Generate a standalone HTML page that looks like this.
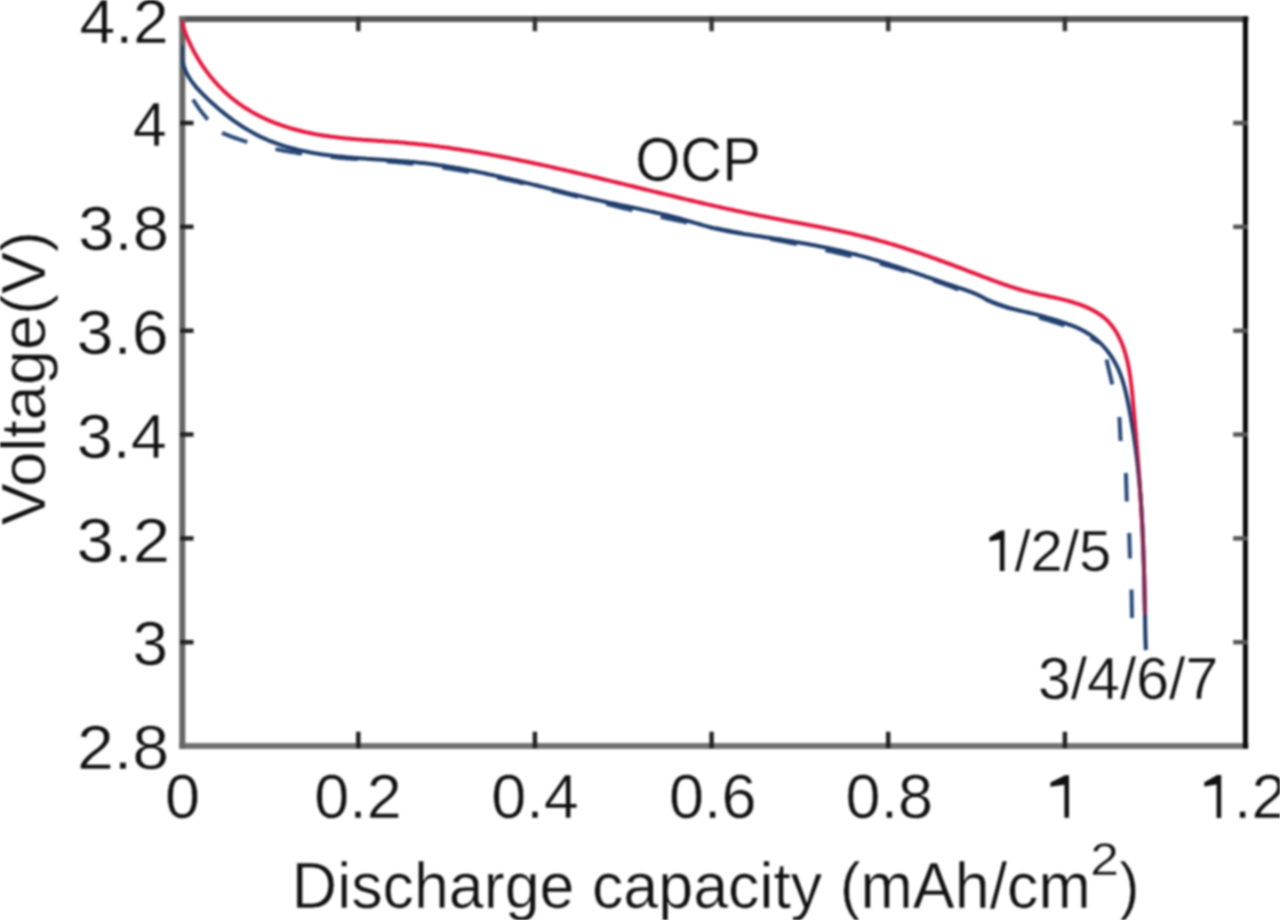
<!DOCTYPE html>
<html><head><meta charset="utf-8"><style>
html,body{margin:0;padding:0;background:#fff;width:1280px;height:920px;overflow:hidden}
svg{display:block}
#wrap{filter:blur(1px);width:1280px;height:920px}
</style></head><body><div id="wrap">
<svg width="1280" height="920" viewBox="0 0 1280 920">
<rect width="1280" height="920" fill="#fff"/>
<g fill="none" stroke-linecap="square">
<line x1="182.3" y1="19.0" x2="1245.4" y2="19.0" stroke="#555" stroke-width="6"/>
<line x1="182.3" y1="746.0" x2="1245.4" y2="746.0" stroke="#727272" stroke-width="6"/>
<line x1="182.3" y1="19.0" x2="182.3" y2="746.0" stroke="#666" stroke-width="6"/>
<line x1="1245.4" y1="19.0" x2="1245.4" y2="746.0" stroke="#0a0a0a" stroke-width="5"/>
<line x1="358.3" y1="19.0" x2="358.3" y2="29.0" stroke="#333" stroke-width="4.5"/>
<line x1="358.3" y1="746.0" x2="358.3" y2="734.0" stroke="#222" stroke-width="4.5"/>
<line x1="534.9" y1="19.0" x2="534.9" y2="29.0" stroke="#333" stroke-width="4.5"/>
<line x1="534.9" y1="746.0" x2="534.9" y2="734.0" stroke="#222" stroke-width="4.5"/>
<line x1="711.6" y1="19.0" x2="711.6" y2="29.0" stroke="#333" stroke-width="4.5"/>
<line x1="711.6" y1="746.0" x2="711.6" y2="734.0" stroke="#222" stroke-width="4.5"/>
<line x1="888.2" y1="19.0" x2="888.2" y2="29.0" stroke="#333" stroke-width="4.5"/>
<line x1="888.2" y1="746.0" x2="888.2" y2="734.0" stroke="#222" stroke-width="4.5"/>
<line x1="1064.9" y1="19.0" x2="1064.9" y2="29.0" stroke="#333" stroke-width="4.5"/>
<line x1="1064.9" y1="746.0" x2="1064.9" y2="734.0" stroke="#222" stroke-width="4.5"/>
<line x1="182.3" y1="123.0" x2="191.3" y2="123.0" stroke="#222" stroke-width="4.5"/>
<line x1="1245.4" y1="123.0" x2="1235.4" y2="123.0" stroke="#555" stroke-width="4.5"/>
<line x1="182.3" y1="226.8" x2="191.3" y2="226.8" stroke="#222" stroke-width="4.5"/>
<line x1="1245.4" y1="226.8" x2="1235.4" y2="226.8" stroke="#555" stroke-width="4.5"/>
<line x1="182.3" y1="330.7" x2="191.3" y2="330.7" stroke="#222" stroke-width="4.5"/>
<line x1="1245.4" y1="330.7" x2="1235.4" y2="330.7" stroke="#555" stroke-width="4.5"/>
<line x1="182.3" y1="434.5" x2="191.3" y2="434.5" stroke="#222" stroke-width="4.5"/>
<line x1="1245.4" y1="434.5" x2="1235.4" y2="434.5" stroke="#555" stroke-width="4.5"/>
<line x1="182.3" y1="538.4" x2="191.3" y2="538.4" stroke="#222" stroke-width="4.5"/>
<line x1="1245.4" y1="538.4" x2="1235.4" y2="538.4" stroke="#555" stroke-width="4.5"/>
<line x1="182.3" y1="642.2" x2="191.3" y2="642.2" stroke="#222" stroke-width="4.5"/>
<line x1="1245.4" y1="642.2" x2="1235.4" y2="642.2" stroke="#555" stroke-width="4.5"/>
</g>
<defs><clipPath id="pc"><rect x="181.3" y="17" width="1063" height="728"/></clipPath></defs>
<g clip-path="url(#pc)"><path d="M192.9,99.5 Q200,111 207.8,119.6" fill="none" stroke="#2a4a7a" stroke-width="4"/>
<path d="M222.0,132.8 L223.9,133.6 L225.7,134.4 L227.6,135.1 L229.5,135.9 L231.4,136.6 L233.3,137.3 L235.2,138.0 L237.1,138.6 L239.0,139.3 L240.9,139.9 L242.8,140.6 L244.7,141.2 L246.6,141.8 L248.6,142.4 L250.5,142.9 L252.4,143.5 L254.3,144.0 L256.3,144.6 L258.2,145.1 L260.1,145.6 L262.1,146.1 L264.0,146.5 L265.9,147.0 L267.9,147.4 L269.8,147.9 L271.8,148.3 L273.7,148.7 L275.7,149.1 L277.7,149.5 L279.6,149.9 L281.6,150.3 L283.5,150.7 L285.5,151.0 L287.5,151.4 L289.4,151.7 L291.4,152.0 L293.4,152.3 L295.4,152.6 L297.3,152.9 L299.3,153.2 L301.3,153.5 L303.3,153.8 L305.3,154.1 L307.2,154.3 L309.2,154.6 L311.2,154.8 L313.2,155.1 L315.2,155.3 L317.2,155.5 L319.2,155.7 L321.2,156.0 L323.2,156.2 L325.2,156.4 L327.2,156.6 L329.1,156.8 L331.1,157.0 L333.1,157.1 L335.1,157.3 L337.1,157.5 L339.2,157.7 L341.2,157.9 L343.2,158.0 L345.2,158.2 L347.2,158.4 L349.2,158.5 L351.2,158.7 L353.2,158.8 L355.2,159.0 L357.2,159.1 L359.2,159.3 L361.2,159.4 L363.2,159.6 L365.2,159.7 L367.2,159.9 L369.2,160.0 L371.2,160.2 L373.3,160.3 L375.3,160.5 L377.3,160.7 L379.3,160.8 L381.3,161.0 L383.3,161.1 L385.3,161.3 L387.3,161.4 L389.3,161.6 L391.3,161.8 L393.3,161.9 L395.3,162.1 L397.3,162.3 L399.3,162.5 L401.3,162.6 L403.3,162.8 L405.3,163.0 L407.3,163.2 L409.3,163.4 L411.3,163.6 L413.3,163.8 L415.3,164.0 L417.3,164.2 L419.3,164.5 L421.3,164.7 L423.3,164.9 L425.3,165.2 L427.3,165.4 L429.3,165.7 L431.3,165.9 L433.2,166.2 L435.2,166.5 L437.2,166.8 L439.2,167.0 L441.2,167.3 L443.1,167.6 L445.1,167.9 L447.1,168.2 L449.1,168.5 L451.1,168.9 L453.0,169.2 L455.0,169.5 L457.0,169.8 L459.0,170.2 L460.9,170.5 L462.9,170.9 L464.9,171.2 L466.8,171.6 L468.8,171.9 L470.8,172.3 L472.7,172.6 L474.7,173.0 L476.7,173.4 L478.6,173.8 L480.6,174.1 L482.6,174.5 L484.5,174.9 L486.5,175.3 L488.4,175.7 L490.4,176.1 L492.4,176.5 L494.3,176.9 L496.3,177.3 L498.2,177.8 L500.2,178.2 L502.1,178.6 L504.1,179.0 L506.1,179.5 L508.0,179.9 L510.0,180.3 L511.9,180.8 L513.9,181.2 L515.8,181.6 L517.8,182.1 L519.7,182.5 L521.7,183.0 L523.6,183.4 L525.6,183.9 L527.5,184.3 L529.5,184.8 L531.4,185.3 L533.4,185.7 L535.3,186.2 L537.3,186.7 L539.2,187.1 L541.2,187.6 L543.1,188.1 L545.1,188.6 L547.0,189.0 L549.0,189.5 L550.9,190.0 L552.8,190.5 L554.8,190.9 L556.7,191.4 L558.7,191.9 L560.6,192.4 L562.6,192.9 L564.5,193.4 L566.5,193.9 L568.4,194.3 L570.4,194.8 L572.3,195.3 L574.2,195.8 L576.2,196.3 L578.1,196.8 L580.1,197.3 L582.0,197.8 L584.0,198.3 L585.9,198.7 L587.9,199.2 L589.8,199.7 L591.7,200.2 L593.7,200.7 L595.6,201.2 L597.6,201.7 L599.5,202.2 L601.5,202.7 L603.4,203.2 L605.4,203.6 L607.3,204.1 L609.3,204.6 L611.2,205.1 L613.1,205.6 L615.1,206.1 L617.0,206.5 L619.0,207.0 L620.9,207.5 L622.9,208.0 L624.8,208.5 L626.8,208.9 L628.7,209.4 L630.7,209.9 L632.6,210.4 L634.6,210.8 L636.5,211.3 L638.5,211.8 L640.4,212.2 L642.4,212.7 L644.4,213.1 L646.3,213.6 L648.3,214.0 L650.2,214.5 L652.2,215.0 L654.1,215.4 L656.1,215.8 L658.0,216.3 L660.0,216.7 L662.0,217.2 L663.9,217.6 L665.9,218.0 L667.8,218.5 L669.8,218.9 L671.8,219.3 L673.7,219.7 L675.7,220.1 L677.6,220.6 L679.6,221.0 L681.6,221.4 L683.5,221.8 L685.5,222.2 L687.5,222.6 L689.4,223.0 L691.4,223.4 L693.4,223.8 L695.3,224.2 L697.3,224.6 L699.3,225.0 L701.2,225.4 L703.2,225.8 L705.2,226.2 L707.1,226.6 L709.1,227.0 L711.1,227.4 L713.0,227.8 L715.0,228.1 L717.0,228.5 L719.0,228.9 L720.9,229.3 L722.9,229.7 L724.9,230.1 L726.8,230.4 L728.8,230.8 L730.8,231.2 L732.7,231.6 L734.7,232.0 L736.7,232.3 L738.7,232.7 L740.6,233.1 L742.6,233.5 L744.6,233.9 L746.5,234.2 L748.5,234.6 L750.5,235.0 L752.4,235.4 L754.4,235.8 L756.4,236.1 L758.4,236.5 L760.3,236.9 L762.3,237.3 L764.3,237.7 L766.2,238.0 L768.2,238.4 L770.2,238.8 L772.1,239.2 L774.1,239.6 L776.1,240.0 L778.0,240.3 L780.0,240.7 L782.0,241.1 L783.9,241.5 L785.9,241.9 L787.9,242.3 L789.8,242.7 L791.8,243.1 L793.8,243.5 L795.7,243.9 L797.7,244.3 L799.6,244.7 L801.6,245.1 L803.6,245.5 L805.5,245.9 L807.5,246.3 L809.4,246.7 L811.4,247.1 L813.4,247.6 L815.3,248.0 L817.3,248.4 L819.2,248.8 L821.2,249.2 L823.1,249.7 L825.1,250.1 L827.0,250.5 L829.0,251.0 L830.9,251.4 L832.9,251.8 L834.8,252.3 L836.8,252.7 L838.7,253.2 L840.7,253.6 L842.6,254.1 L844.6,254.5 L846.5,255.0 L848.5,255.5 L850.4,255.9 L852.4,256.4 L854.3,256.9 L856.2,257.4 L858.2,257.8 L860.1,258.3 L862.1,258.8 L864.0,259.3 L865.9,259.8 L867.9,260.3 L869.8,260.8 L871.7,261.3 L873.7,261.8 L875.6,262.3 L877.5,262.9 L879.4,263.4 L881.4,263.9 L883.3,264.5 L885.2,265.0 L887.1,265.5 L889.1,266.1 L891.0,266.6 L892.9,267.2 L894.8,267.8 L896.7,268.3 L898.6,268.9 L900.6,269.5 L902.5,270.0 L904.4,270.6 L906.3,271.2 L908.2,271.8 L910.1,272.4 L912.0,273.0 L913.9,273.6 L915.8,274.3 L917.7,274.9 L919.6,275.5 L921.5,276.1 L923.4,276.8 L925.3,277.4 L927.2,278.1 L929.1,278.7 L931.0,279.4 L932.8,280.1 L934.7,280.7 L936.6,281.4 L938.5,282.1 L940.4,282.8 L942.3,283.4 L944.2,284.1 L946.0,284.8 L947.9,285.5 L949.8,286.2 L951.7,286.9 L953.6,287.6 L955.4,288.3 L957.3,289.0 L959.2,289.7 L961.1,290.4 L963.0,291.1 L964.8,291.8 L966.7,292.5 L968.6,293.2 L970.5,293.9 L972.3,294.6 L974.2,295.3 L976.1,296.0 L978.0,296.7 L979.9,297.4 L981.7,298.1 L983.6,298.8 L985.5,299.5 L987.4,300.2 L989.3,300.9 L991.1,301.6 L993.0,302.3 L994.9,303.0 L996.8,303.7 L998.7,304.3 L1000.6,305.0 L1002.4,305.7 L1004.3,306.3 L1006.2,307.0 L1008.1,307.7 L1010.0,308.3 L1011.9,309.0 L1013.8,309.6 L1015.7,310.2 L1017.6,310.9 L1019.5,311.5 L1021.4,312.1 L1023.3,312.7 L1025.2,313.3 L1027.1,313.9 L1029.0,314.5 L1030.9,315.1 L1032.8,315.7 L1034.7,316.2 L1036.6,316.8 L1038.6,317.4 L1040.5,317.9 L1042.4,318.5 L1044.3,319.1 L1046.2,319.6 L1048.1,320.2 L1050.0,320.8 L1051.9,321.4 L1053.8,322.0 L1055.7,322.6 L1057.6,323.2 L1059.5,323.8 L1061.3,324.4 L1063.2,325.1 L1065.1,325.7 L1066.9,326.4 L1068.8,327.1 L1070.6,327.8 L1072.5,328.5 L1074.3,329.3 L1076.1,330.1 L1077.9,330.9 L1079.7,331.7 L1081.5,332.5 L1083.3,333.4 L1085.0,334.3 L1086.8,335.2 L1088.5,336.2 L1090.3,337.2 L1092.0,338.2 L1093.7,339.3 L1095.4,340.4 L1097.0,341.5 L1098.7,342.7" fill="none" stroke="#2a4a7a" stroke-width="4" stroke-dasharray="27 29"/>
<line x1="1106.5" y1="359.5" x2="1112.3" y2="384.5" stroke="#2a4a7a" stroke-width="4"/>
<line x1="1119.4" y1="417.0" x2="1120.6" y2="441.0" stroke="#2a4a7a" stroke-width="4"/>
<line x1="1125.9" y1="473.0" x2="1126.8" y2="501.5" stroke="#2a4a7a" stroke-width="4"/>
<line x1="1129.2" y1="533.0" x2="1130.0" y2="558.5" stroke="#2a4a7a" stroke-width="4"/>
<line x1="1131.5" y1="589.5" x2="1132.0" y2="618.0" stroke="#2a4a7a" stroke-width="4"/>
<path d="M182.3,45.8 L182.0,48.0 L181.9,50.2 L181.8,52.3 L181.8,54.4 L181.9,56.5 L182.1,58.5 L182.4,60.5 L182.8,62.4 L183.3,64.3 L183.8,66.1 L184.5,68.0 L185.1,69.8 L185.9,71.5 L186.7,73.2 L187.6,74.9 L188.6,76.6 L189.6,78.2 L190.6,79.8 L191.7,81.4 L192.9,83.0 L194.1,84.5 L195.3,86.1 L196.6,87.6 L197.9,89.1 L199.3,90.5 L200.6,92.0 L202.0,93.4 L203.5,94.9 L204.9,96.3 L206.4,97.7 L207.8,99.1 L209.3,100.5 L210.8,101.9 L212.3,103.3 L213.8,104.6 L215.4,106.0 L216.9,107.3 L218.5,108.7 L220.0,110.0 L221.6,111.3 L223.2,112.6 L224.8,113.9 L226.4,115.1 L228.0,116.4 L229.6,117.6 L231.3,118.9 L232.9,120.1 L234.6,121.3 L236.2,122.4 L237.9,123.6 L239.6,124.7 L241.3,125.9 L243.0,127.0 L244.7,128.0 L246.4,129.1 L248.2,130.1 L249.9,131.1 L251.7,132.1 L253.4,133.1 L255.2,134.1 L256.9,135.0 L258.7,135.9 L260.5,136.8 L262.3,137.6 L264.1,138.4 L265.9,139.2 L267.7,140.0 L269.5,140.8 L271.4,141.5 L273.2,142.2 L275.1,142.9 L276.9,143.6 L278.8,144.2 L280.6,144.9 L282.5,145.5 L284.4,146.1 L286.2,146.7 L288.1,147.2 L290.0,147.7 L291.9,148.3 L293.8,148.8 L295.7,149.3 L297.6,149.7 L299.5,150.2 L301.5,150.6 L303.4,151.0 L305.3,151.4 L307.3,151.8 L309.2,152.2 L311.1,152.6 L313.1,152.9 L315.0,153.3 L317.0,153.6 L319.0,153.9 L320.9,154.2 L322.9,154.5 L324.9,154.8 L326.8,155.0 L328.8,155.3 L330.8,155.5 L332.8,155.8 L334.8,156.0 L336.8,156.2 L338.8,156.4 L340.8,156.6 L342.8,156.8 L344.8,157.0 L346.8,157.2 L348.8,157.4 L350.8,157.5 L352.8,157.7 L354.8,157.9 L356.8,158.0 L358.8,158.2 L360.8,158.3 L362.8,158.5 L364.9,158.6 L366.9,158.8 L368.9,158.9 L370.9,159.0 L372.9,159.2 L375.0,159.3 L377.0,159.4 L379.0,159.5 L381.0,159.7 L383.1,159.8 L385.1,159.9 L387.1,160.1 L389.1,160.2 L391.1,160.3 L393.2,160.5 L395.2,160.6 L397.2,160.8 L399.2,160.9 L401.2,161.1 L403.3,161.2 L405.3,161.4 L407.3,161.5 L409.3,161.7 L411.3,161.9 L413.3,162.1 L415.3,162.3 L417.3,162.5 L419.3,162.7 L421.3,162.9 L423.3,163.1 L425.3,163.3 L427.3,163.6 L429.3,163.8 L431.3,164.1 L433.3,164.3 L435.3,164.6 L437.3,164.9 L439.3,165.2 L441.3,165.5 L443.2,165.8 L445.2,166.1 L447.2,166.4 L449.2,166.7 L451.1,167.0 L453.1,167.3 L455.1,167.7 L457.0,168.0 L459.0,168.3 L461.0,168.7 L462.9,169.1 L464.9,169.4 L466.9,169.8 L468.8,170.2 L470.8,170.5 L472.7,170.9 L474.7,171.3 L476.7,171.7 L478.6,172.1 L480.6,172.5 L482.5,172.9 L484.5,173.3 L486.4,173.7 L488.4,174.2 L490.3,174.6 L492.3,175.0 L494.2,175.4 L496.2,175.9 L498.1,176.3 L500.1,176.7 L502.0,177.2 L503.9,177.6 L505.9,178.1 L507.8,178.5 L509.8,179.0 L511.7,179.4 L513.6,179.9 L515.6,180.3 L517.5,180.8 L519.5,181.3 L521.4,181.7 L523.3,182.2 L525.3,182.7 L527.2,183.1 L529.2,183.6 L531.1,184.1 L533.0,184.6 L535.0,185.0 L536.9,185.5 L538.9,186.0 L540.8,186.5 L542.7,186.9 L544.7,187.4 L546.6,187.9 L548.6,188.4 L550.5,188.9 L552.4,189.3 L554.4,189.8 L556.3,190.3 L558.3,190.8 L560.2,191.2 L562.1,191.7 L564.1,192.2 L566.0,192.7 L568.0,193.1 L569.9,193.6 L571.9,194.1 L573.8,194.5 L575.8,195.0 L577.7,195.5 L579.7,195.9 L581.6,196.4 L583.6,196.9 L585.5,197.3 L587.5,197.8 L589.4,198.2 L591.4,198.7 L593.3,199.1 L595.3,199.5 L597.2,200.0 L599.2,200.4 L601.2,200.9 L603.1,201.3 L605.1,201.7 L607.1,202.1 L609.0,202.6 L611.0,203.0 L613.0,203.4 L614.9,203.8 L616.9,204.2 L618.9,204.6 L620.8,205.1 L622.8,205.5 L624.8,205.9 L626.7,206.3 L628.7,206.7 L630.7,207.1 L632.6,207.5 L634.6,208.0 L636.6,208.4 L638.5,208.8 L640.5,209.2 L642.5,209.6 L644.4,210.1 L646.4,210.5 L648.4,210.9 L650.3,211.4 L652.3,211.8 L654.2,212.2 L656.2,212.7 L658.1,213.1 L660.1,213.6 L662.0,214.1 L664.0,214.5 L665.9,215.0 L667.9,215.5 L669.8,216.0 L671.8,216.5 L673.7,217.0 L675.6,217.5 L677.6,218.0 L679.5,218.5 L681.4,219.0 L683.3,219.6 L685.3,220.1 L687.2,220.7 L689.1,221.2 L691.0,221.8 L692.9,222.3 L694.8,222.9 L696.8,223.4 L698.7,224.0 L700.6,224.5 L702.5,225.1 L704.4,225.6 L706.3,226.1 L708.3,226.7 L710.2,227.2 L712.1,227.7 L714.0,228.2 L716.0,228.6 L717.9,229.1 L719.9,229.6 L721.8,230.0 L723.8,230.4 L725.7,230.8 L727.7,231.2 L729.6,231.6 L731.6,231.9 L733.6,232.3 L735.6,232.6 L737.5,233.0 L739.5,233.3 L741.5,233.6 L743.5,233.9 L745.5,234.2 L747.4,234.5 L749.4,234.8 L751.4,235.1 L753.4,235.4 L755.4,235.7 L757.4,236.0 L759.4,236.3 L761.4,236.6 L763.4,236.9 L765.3,237.2 L767.3,237.5 L769.3,237.8 L771.3,238.1 L773.3,238.4 L775.3,238.7 L777.3,239.0 L779.2,239.3 L781.2,239.6 L783.2,239.9 L785.2,240.2 L787.2,240.6 L789.2,240.9 L791.1,241.2 L793.1,241.5 L795.1,241.9 L797.1,242.2 L799.1,242.5 L801.0,242.9 L803.0,243.2 L805.0,243.6 L807.0,243.9 L808.9,244.3 L810.9,244.7 L812.9,245.0 L814.8,245.4 L816.8,245.8 L818.8,246.2 L820.7,246.6 L822.7,247.0 L824.7,247.4 L826.6,247.8 L828.6,248.2 L830.6,248.6 L832.5,249.0 L834.5,249.4 L836.4,249.9 L838.4,250.3 L840.3,250.8 L842.3,251.2 L844.2,251.7 L846.2,252.1 L848.1,252.6 L850.0,253.1 L852.0,253.6 L853.9,254.0 L855.9,254.5 L857.8,255.1 L859.7,255.6 L861.7,256.1 L863.6,256.6 L865.5,257.1 L867.4,257.7 L869.4,258.2 L871.3,258.8 L873.2,259.4 L875.1,259.9 L877.0,260.5 L879.0,261.1 L880.9,261.7 L882.8,262.2 L884.7,262.8 L886.6,263.4 L888.5,264.0 L890.4,264.6 L892.3,265.3 L894.2,265.9 L896.1,266.5 L898.0,267.1 L899.9,267.7 L901.8,268.4 L903.7,269.0 L905.6,269.6 L907.5,270.3 L909.4,270.9 L911.3,271.6 L913.2,272.2 L915.1,272.8 L917.0,273.5 L918.9,274.1 L920.8,274.8 L922.7,275.4 L924.6,276.1 L926.5,276.8 L928.4,277.4 L930.3,278.1 L932.2,278.7 L934.1,279.4 L936.0,280.0 L937.9,280.7 L939.8,281.3 L941.7,282.0 L943.6,282.6 L945.5,283.3 L947.4,283.9 L949.3,284.6 L951.2,285.2 L953.1,285.9 L955.0,286.5 L956.9,287.1 L958.8,287.8 L960.7,288.4 L962.6,289.0 L964.5,289.7 L966.3,290.3 L968.2,291.0 L970.1,291.7 L972.0,292.4 L973.8,293.1 L975.6,293.9 L977.4,294.7 L979.2,295.6 L981.0,296.4 L982.7,297.4 L984.5,298.3 L986.2,299.2 L988.0,300.1 L989.7,301.0 L991.5,301.8 L993.3,302.6 L995.2,303.4 L997.0,304.1 L998.9,304.8 L1000.8,305.4 L1002.7,306.0 L1004.6,306.6 L1006.5,307.2 L1008.4,307.7 L1010.4,308.3 L1012.3,308.8 L1014.3,309.3 L1016.3,309.7 L1018.2,310.2 L1020.2,310.7 L1022.2,311.1 L1024.1,311.6 L1026.1,312.0 L1028.0,312.5 L1030.0,313.0 L1031.9,313.4 L1033.8,313.9 L1035.8,314.4 L1037.7,314.9 L1039.6,315.4 L1041.5,315.9 L1043.4,316.5 L1045.3,317.0 L1047.3,317.6 L1049.2,318.1 L1051.1,318.7 L1053.0,319.2 L1054.9,319.8 L1056.8,320.4 L1058.7,321.0 L1060.6,321.6 L1062.6,322.3 L1064.5,322.9 L1066.4,323.6 L1068.3,324.3 L1070.2,325.0 L1072.1,325.7 L1074.0,326.4 L1075.9,327.2 L1077.8,328.0 L1079.6,328.9 L1081.4,329.8 L1083.2,330.7 L1085.0,331.6 L1086.7,332.7 L1088.4,333.7 L1090.1,334.8 L1091.7,335.9 L1093.3,337.1 L1094.9,338.4 L1096.5,339.6 L1098.0,340.9 L1099.4,342.3 L1100.9,343.7 L1102.3,345.1 L1103.6,346.5 L1104.9,348.0 L1106.2,349.5 L1107.5,351.1 L1108.7,352.7 L1109.9,354.3 L1111.0,355.9 L1112.1,357.6 L1113.1,359.2 L1114.1,360.9 L1115.1,362.7 L1116.0,364.4 L1116.9,366.2 L1117.8,368.0 L1118.6,369.8 L1119.3,371.6 L1120.1,373.5 L1120.8,375.3 L1121.4,377.2 L1122.1,379.1 L1122.7,381.0 L1123.3,382.9 L1123.8,384.8 L1124.4,386.8 L1124.9,388.7 L1125.4,390.7 L1125.8,392.6 L1126.3,394.6 L1126.7,396.6 L1127.2,398.5 L1127.6,400.5 L1128.0,402.5 L1128.4,404.5 L1128.8,406.5 L1129.2,408.4 L1129.5,410.4 L1129.9,412.4 L1130.3,414.4 L1130.6,416.4 L1131.0,418.4 L1131.3,420.3 L1131.7,422.3 L1132.0,424.3 L1132.3,426.3 L1132.7,428.3 L1133.0,430.3 L1133.3,432.2 L1133.6,434.2 L1133.9,436.2 L1134.2,438.2 L1134.5,440.2 L1134.7,442.2 L1135.0,444.2 L1135.3,446.1 L1135.6,448.1 L1135.8,450.1 L1136.1,452.1 L1136.3,454.1 L1136.6,456.1 L1136.8,458.1 L1137.0,460.1 L1137.3,462.0 L1137.5,464.0 L1137.7,466.0 L1137.9,468.0 L1138.1,470.0 L1138.3,472.0 L1138.5,474.0 L1138.7,476.0 L1138.9,478.0 L1139.1,480.0 L1139.3,481.9 L1139.5,483.9 L1139.6,485.9 L1139.8,487.9 L1140.0,489.9 L1140.1,491.9 L1140.3,493.9 L1140.5,495.9 L1140.6,497.9 L1140.8,499.9 L1140.9,501.9 L1141.0,503.9 L1141.2,505.9 L1141.3,507.9 L1141.4,509.8 L1141.6,511.8 L1141.7,513.8 L1141.8,515.8 L1141.9,517.8 L1142.0,519.8 L1142.1,521.8 L1142.3,523.8 L1142.4,525.8 L1142.5,527.8 L1142.6,529.8 L1142.7,531.8 L1142.7,533.8 L1142.8,535.8 L1142.9,537.8 L1143.0,539.8 L1143.1,541.8 L1143.2,543.8 L1143.3,545.8 L1143.3,547.8 L1143.4,549.8 L1143.5,551.8 L1143.5,553.8 L1143.6,555.8 L1143.7,557.8 L1143.7,559.8 L1143.8,561.8 L1143.9,563.8 L1143.9,565.8 L1144.0,567.8 L1144.0,569.8 L1144.1,571.8 L1144.1,573.8 L1144.2,575.8 L1144.2,577.8 L1144.3,579.8 L1144.3,581.8 L1144.4,583.8 L1144.4,585.8 L1144.5,587.8 L1144.5,589.8 L1144.6,591.8 L1144.6,593.8 L1144.7,595.8 L1144.7,597.8 L1144.7,599.8 L1144.8,601.9 L1144.8,603.9 L1144.9,605.9 L1144.9,607.9 L1144.9,609.9 L1145.0,611.9 L1145.0,613.9 L1145.1,615.9 L1145.1,617.9 L1145.1,619.9 L1145.2,621.9 L1145.2,623.9 L1145.2,625.9 L1145.3,627.9 L1145.3,630.0 L1145.4,632.0 L1145.4,634.0 L1145.4,636.0 L1145.5,638.0 L1145.5,640.0 L1145.6,642.0 L1145.6,644.0 L1145.7,646.0 L1145.7,648.0 L1145.8,650.1" fill="none" stroke="#1f3d6b" stroke-width="4" stroke-linejoin="round"/>
<path d="M181.2,19.9 L181.7,21.8 L182.3,23.6 L182.9,25.5 L183.5,27.4 L184.1,29.2 L184.8,31.1 L185.4,32.9 L186.1,34.7 L186.9,36.6 L187.6,38.4 L188.4,40.2 L189.2,42.0 L190.1,43.8 L190.9,45.6 L191.8,47.4 L192.7,49.2 L193.6,51.0 L194.6,52.7 L195.6,54.5 L196.6,56.2 L197.6,58.0 L198.6,59.7 L199.7,61.4 L200.8,63.1 L201.9,64.8 L203.0,66.4 L204.2,68.1 L205.3,69.7 L206.5,71.4 L207.8,73.0 L209.0,74.6 L210.2,76.2 L211.5,77.7 L212.8,79.3 L214.1,80.8 L215.5,82.3 L216.8,83.8 L218.2,85.3 L219.6,86.7 L221.0,88.2 L222.4,89.6 L223.9,91.0 L225.3,92.4 L226.8,93.7 L228.3,95.1 L229.8,96.4 L231.3,97.7 L232.9,99.0 L234.4,100.2 L236.0,101.4 L237.6,102.6 L239.2,103.8 L240.8,104.9 L242.5,106.1 L244.1,107.2 L245.8,108.3 L247.5,109.3 L249.2,110.3 L250.9,111.4 L252.6,112.4 L254.3,113.3 L256.1,114.3 L257.9,115.2 L259.6,116.1 L261.4,117.0 L263.2,117.8 L265.0,118.7 L266.8,119.5 L268.6,120.3 L270.5,121.1 L272.3,121.8 L274.2,122.6 L276.0,123.3 L277.9,124.0 L279.8,124.7 L281.7,125.4 L283.6,126.0 L285.5,126.6 L287.4,127.2 L289.3,127.8 L291.2,128.4 L293.1,129.0 L295.1,129.5 L297.0,130.0 L299.0,130.5 L300.9,131.0 L302.9,131.5 L304.8,132.0 L306.8,132.4 L308.8,132.8 L310.7,133.2 L312.7,133.6 L314.7,134.0 L316.6,134.4 L318.6,134.7 L320.6,135.1 L322.6,135.4 L324.6,135.7 L326.6,136.0 L328.6,136.3 L330.5,136.6 L332.5,136.8 L334.5,137.1 L336.5,137.3 L338.5,137.6 L340.5,137.8 L342.5,138.0 L344.5,138.2 L346.5,138.4 L348.5,138.6 L350.5,138.8 L352.5,139.0 L354.5,139.1 L356.5,139.3 L358.5,139.4 L360.5,139.6 L362.5,139.8 L364.5,139.9 L366.5,140.0 L368.5,140.2 L370.6,140.3 L372.6,140.5 L374.6,140.6 L376.6,140.7 L378.6,140.9 L380.6,141.0 L382.6,141.1 L384.6,141.3 L386.6,141.4 L388.6,141.6 L390.6,141.7 L392.6,141.8 L394.6,142.0 L396.6,142.1 L398.6,142.3 L400.6,142.5 L402.6,142.6 L404.6,142.8 L406.6,143.0 L408.6,143.2 L410.6,143.4 L412.6,143.5 L414.6,143.7 L416.6,143.9 L418.6,144.2 L420.6,144.4 L422.6,144.6 L424.5,144.8 L426.5,145.0 L428.5,145.3 L430.5,145.5 L432.5,145.7 L434.5,146.0 L436.5,146.2 L438.5,146.5 L440.4,146.7 L442.4,147.0 L444.4,147.3 L446.4,147.5 L448.4,147.8 L450.4,148.1 L452.3,148.4 L454.3,148.7 L456.3,149.0 L458.3,149.3 L460.2,149.6 L462.2,149.9 L464.2,150.2 L466.2,150.5 L468.2,150.8 L470.1,151.1 L472.1,151.4 L474.1,151.8 L476.0,152.1 L478.0,152.4 L480.0,152.8 L482.0,153.1 L483.9,153.5 L485.9,153.8 L487.9,154.1 L489.8,154.5 L491.8,154.9 L493.8,155.2 L495.7,155.6 L497.7,156.0 L499.7,156.3 L501.6,156.7 L503.6,157.1 L505.6,157.4 L507.5,157.8 L509.5,158.2 L511.5,158.6 L513.4,159.0 L515.4,159.4 L517.3,159.8 L519.3,160.2 L521.3,160.6 L523.2,161.0 L525.2,161.4 L527.1,161.8 L529.1,162.2 L531.1,162.6 L533.0,163.0 L535.0,163.5 L536.9,163.9 L538.9,164.3 L540.8,164.7 L542.8,165.1 L544.8,165.6 L546.7,166.0 L548.7,166.4 L550.6,166.9 L552.6,167.3 L554.5,167.7 L556.5,168.2 L558.4,168.6 L560.4,169.1 L562.4,169.5 L564.3,170.0 L566.3,170.4 L568.2,170.9 L570.2,171.3 L572.1,171.8 L574.1,172.2 L576.0,172.7 L578.0,173.1 L579.9,173.6 L581.9,174.1 L583.8,174.5 L585.8,175.0 L587.7,175.4 L589.7,175.9 L591.6,176.4 L593.6,176.8 L595.5,177.3 L597.5,177.8 L599.4,178.2 L601.4,178.7 L603.3,179.2 L605.3,179.7 L607.2,180.1 L609.2,180.6 L611.1,181.1 L613.1,181.6 L615.0,182.0 L617.0,182.5 L618.9,183.0 L620.9,183.5 L622.8,183.9 L624.8,184.4 L626.7,184.9 L628.7,185.4 L630.6,185.8 L632.6,186.3 L634.5,186.8 L636.5,187.3 L638.4,187.8 L640.4,188.2 L642.3,188.7 L644.3,189.2 L646.2,189.7 L648.2,190.1 L650.1,190.6 L652.1,191.1 L654.0,191.6 L656.0,192.0 L657.9,192.5 L659.9,193.0 L661.8,193.5 L663.8,193.9 L665.7,194.4 L667.7,194.9 L669.6,195.4 L671.6,195.8 L673.5,196.3 L675.5,196.8 L677.4,197.2 L679.4,197.7 L681.3,198.2 L683.3,198.6 L685.2,199.1 L687.2,199.6 L689.1,200.0 L691.1,200.5 L693.0,201.0 L695.0,201.4 L696.9,201.9 L698.9,202.3 L700.8,202.8 L702.8,203.2 L704.7,203.7 L706.7,204.1 L708.7,204.6 L710.6,205.0 L712.6,205.5 L714.5,205.9 L716.5,206.4 L718.4,206.8 L720.4,207.2 L722.4,207.7 L724.3,208.1 L726.3,208.6 L728.2,209.0 L730.2,209.4 L732.1,209.8 L734.1,210.3 L736.1,210.7 L738.0,211.1 L740.0,211.5 L741.9,211.9 L743.9,212.4 L745.9,212.8 L747.8,213.2 L749.8,213.6 L751.8,214.0 L753.7,214.4 L755.7,214.8 L757.7,215.2 L759.6,215.6 L761.6,216.0 L763.5,216.3 L765.5,216.7 L767.5,217.1 L769.5,217.5 L771.4,217.9 L773.4,218.3 L775.4,218.6 L777.3,219.0 L779.3,219.4 L781.3,219.8 L783.2,220.1 L785.2,220.5 L787.2,220.9 L789.1,221.2 L791.1,221.6 L793.1,222.0 L795.0,222.3 L797.0,222.7 L799.0,223.1 L801.0,223.4 L802.9,223.8 L804.9,224.2 L806.9,224.6 L808.8,224.9 L810.8,225.3 L812.8,225.7 L814.7,226.1 L816.7,226.4 L818.7,226.8 L820.6,227.2 L822.6,227.6 L824.5,228.0 L826.5,228.4 L828.5,228.8 L830.4,229.2 L832.4,229.6 L834.4,230.0 L836.3,230.4 L838.3,230.8 L840.2,231.2 L842.2,231.6 L844.1,232.0 L846.1,232.5 L848.1,232.9 L850.0,233.3 L852.0,233.8 L853.9,234.2 L855.9,234.7 L857.8,235.1 L859.8,235.6 L861.7,236.1 L863.6,236.5 L865.6,237.0 L867.5,237.5 L869.5,238.0 L871.4,238.5 L873.4,239.0 L875.3,239.5 L877.2,240.0 L879.2,240.6 L881.1,241.1 L883.0,241.6 L884.9,242.2 L886.9,242.7 L888.8,243.3 L890.7,243.9 L892.6,244.4 L894.6,245.0 L896.5,245.6 L898.4,246.2 L900.3,246.8 L902.2,247.4 L904.1,248.0 L906.1,248.6 L908.0,249.3 L909.9,249.9 L911.8,250.5 L913.7,251.1 L915.6,251.8 L917.5,252.4 L919.4,253.1 L921.3,253.7 L923.2,254.4 L925.1,255.1 L927.0,255.7 L928.9,256.4 L930.8,257.1 L932.7,257.8 L934.6,258.4 L936.5,259.1 L938.3,259.8 L940.2,260.5 L942.1,261.2 L944.0,261.9 L945.9,262.6 L947.8,263.3 L949.7,264.0 L951.5,264.7 L953.4,265.4 L955.3,266.1 L957.2,266.8 L959.1,267.5 L960.9,268.2 L962.8,268.9 L964.7,269.6 L966.5,270.4 L968.4,271.1 L970.3,271.8 L972.2,272.5 L974.0,273.2 L975.9,273.9 L977.8,274.6 L979.6,275.4 L981.5,276.1 L983.4,276.8 L985.2,277.5 L987.1,278.2 L988.9,278.9 L990.8,279.6 L992.7,280.3 L994.5,281.0 L996.4,281.7 L998.3,282.4 L1000.1,283.0 L1002.0,283.7 L1003.9,284.4 L1005.8,285.0 L1007.7,285.7 L1009.5,286.3 L1011.4,286.9 L1013.3,287.5 L1015.2,288.1 L1017.1,288.7 L1019.0,289.3 L1020.9,289.8 L1022.8,290.4 L1024.8,290.9 L1026.7,291.4 L1028.6,291.9 L1030.6,292.4 L1032.5,292.8 L1034.4,293.3 L1036.4,293.7 L1038.4,294.2 L1040.3,294.6 L1042.3,295.0 L1044.3,295.4 L1046.2,295.8 L1048.2,296.2 L1050.2,296.7 L1052.2,297.1 L1054.2,297.5 L1056.2,298.0 L1058.2,298.4 L1060.2,298.9 L1062.2,299.4 L1064.2,299.9 L1066.2,300.4 L1068.2,300.9 L1070.2,301.5 L1072.2,302.0 L1074.1,302.6 L1076.1,303.3 L1078.1,303.9 L1080.0,304.6 L1081.9,305.3 L1083.8,306.0 L1085.7,306.8 L1087.5,307.6 L1089.3,308.5 L1091.1,309.3 L1092.9,310.2 L1094.6,311.2 L1096.3,312.2 L1098.0,313.2 L1099.6,314.3 L1101.2,315.4 L1102.7,316.6 L1104.2,317.8 L1105.7,319.1 L1107.1,320.4 L1108.4,321.7 L1109.7,323.2 L1110.9,324.6 L1112.1,326.1 L1113.3,327.7 L1114.4,329.3 L1115.5,330.9 L1116.5,332.6 L1117.5,334.3 L1118.4,336.0 L1119.3,337.8 L1120.2,339.6 L1121.0,341.4 L1121.8,343.2 L1122.5,345.1 L1123.2,347.0 L1123.9,348.9 L1124.5,350.8 L1125.1,352.8 L1125.7,354.7 L1126.2,356.7 L1126.7,358.7 L1127.2,360.6 L1127.7,362.6 L1128.1,364.6 L1128.5,366.6 L1128.9,368.6 L1129.3,370.6 L1129.6,372.6 L1129.9,374.6 L1130.2,376.6 L1130.5,378.5 L1130.7,380.5 L1131.0,382.5 L1131.2,384.5 L1131.5,386.5 L1131.7,388.5 L1131.9,390.5 L1132.1,392.5 L1132.3,394.5 L1132.5,396.5 L1132.7,398.5 L1132.9,400.5 L1133.0,402.5 L1133.2,404.5 L1133.4,406.5 L1133.6,408.5 L1133.8,410.5 L1134.0,412.5 L1134.2,414.5 L1134.3,416.5 L1134.5,418.5 L1134.7,420.5 L1134.9,422.5 L1135.0,424.5 L1135.2,426.5 L1135.4,428.5 L1135.6,430.5 L1135.7,432.5 L1135.9,434.5 L1136.1,436.4 L1136.2,438.4 L1136.4,440.4 L1136.6,442.4 L1136.7,444.4 L1136.9,446.4 L1137.1,448.4 L1137.2,450.4 L1137.4,452.4 L1137.5,454.4 L1137.7,456.4 L1137.8,458.4 L1138.0,460.4 L1138.1,462.4 L1138.3,464.4 L1138.4,466.4 L1138.6,468.4 L1138.7,470.4 L1138.9,472.4 L1139.0,474.4 L1139.2,476.4 L1139.3,478.4 L1139.4,480.4 L1139.6,482.4 L1139.7,484.4 L1139.8,486.3 L1140.0,488.3 L1140.1,490.3 L1140.2,492.3 L1140.4,494.3 L1140.5,496.3 L1140.6,498.3 L1140.7,500.3 L1140.9,502.3 L1141.0,504.3 L1141.1,506.3 L1141.2,508.3 L1141.3,510.3 L1141.4,512.3 L1141.5,514.3 L1141.7,516.3 L1141.8,518.3 L1141.9,520.3 L1142.0,522.3 L1142.1,524.3 L1142.2,526.3 L1142.3,528.3 L1142.4,530.3 L1142.5,532.3 L1142.6,534.3 L1142.7,536.3 L1142.8,538.3 L1142.8,540.3 L1142.9,542.3 L1143.0,544.3 L1143.1,546.3 L1143.2,548.3 L1143.3,550.3 L1143.4,552.3 L1143.4,554.3 L1143.5,556.3 L1143.6,558.3 L1143.7,560.3 L1143.7,562.3 L1143.8,564.3 L1143.9,566.3 L1143.9,568.3 L1144.0,570.4 L1144.0,572.4 L1144.1,574.4 L1144.2,576.4 L1144.2,578.4 L1144.3,580.4 L1144.3,582.4 L1144.4,584.4 L1144.4,586.4 L1144.5,588.4 L1144.5,590.4 L1144.6,592.4 L1144.6,594.4 L1144.6,596.4 L1144.7,598.5 L1144.7,600.5 L1144.7,602.5 L1144.8,604.5 L1144.8,606.5 L1144.8,608.5 L1144.8,610.5 L1144.9,612.5 L1144.9,614.5" fill="none" stroke="#e4183f" stroke-width="4" stroke-linejoin="round"/>
<path d="M1131.2,420.0 L1131.6,422.0 L1131.9,423.9 L1132.3,425.9 L1132.6,427.9 L1133.0,429.9 L1133.3,431.9 L1133.7,433.9 L1134.0,435.9 L1134.3,437.9 L1134.6,439.9 L1134.9,441.9 L1135.2,443.9 L1135.5,445.9 L1135.8,447.9 L1136.1,449.9 L1136.3,452.0 L1136.6,454.0 L1136.8,456.0 L1137.1,458.0 L1137.3,460.0 L1137.6,462.0 L1137.8,464.0 L1138.0,466.0 L1138.2,468.0 L1138.5,470.0 L1138.7,472.0 L1138.9,474.1 L1139.1,476.1 L1139.3,478.1 L1139.4,480.1 L1139.6,482.1 L1139.8,484.1 L1140.0,486.1 L1140.1,488.2 L1140.3,490.2 L1140.4,492.2 L1140.6,494.2 L1140.7,496.2 L1140.9,498.2 L1141.0,500.3 L1141.1,502.3 L1141.3,504.3 L1141.4,506.3 L1141.5,508.3 L1141.6,510.4 L1141.7,512.4 L1141.9,514.4 L1142.0,516.4 L1142.1,518.4 L1142.2,520.5 L1142.3,522.5 L1142.4,524.5 L1142.4,526.5 L1142.5,528.6 L1142.6,530.6 L1142.7,532.6 L1142.8,534.6 L1142.8,536.7 L1142.9,538.7 L1143.0,540.7 L1143.1,542.7 L1143.1,544.8 L1143.2,546.8 L1143.2,548.8 L1143.3,550.8 L1143.4,552.9 L1143.4,554.9 L1143.5,556.9 L1143.5,558.9 L1143.6,561.0 L1143.6,563.0 L1143.7,565.0 L1143.7,567.0 L1143.8,569.1 L1143.8,571.1 L1143.9,573.1 L1143.9,575.1 L1144.0,577.2 L1144.0,579.2 L1144.0,581.2 L1144.1,583.2 L1144.1,585.3 L1144.2,587.3 L1144.2,589.3 L1144.3,591.3 L1144.3,593.4 L1144.3,595.4 L1144.4,597.4 L1144.4,599.4 L1144.5,601.5 L1144.5,603.5 L1144.6,605.5 L1144.6,607.5 L1144.6,609.6 L1144.7,611.6 L1144.7,613.6 L1144.8,615.6 L1144.8,617.7 L1144.9,619.7 L1145.0,621.7 L1145.0,623.7 L1145.1,625.8 L1145.1,627.8 L1145.2,629.8 L1145.3,631.8 L1145.3,633.8 L1145.4,635.9 L1145.5,637.9 L1145.5,639.9 L1145.6,641.9 L1145.7,643.9 L1145.8,645.9 L1145.9,648.0 L1145.9,650.0" fill="none" stroke="#1f3d6b" stroke-width="3.5" stroke-opacity="0.55"/></g>
<g font-family="Liberation Sans, sans-serif" font-size="60" fill="#111" stroke="#fff" stroke-width="0.5">
<text transform="matrix(1.0684 0 0 1.0500 79.53 43.00)">4.2</text>
<text transform="matrix(1.0194 0 0 1.0500 132.78 146.20)">4</text>
<text transform="matrix(1.0859 0 0 1.0500 78.34 250.04)">3.8</text>
<text transform="matrix(1.1064 0 0 1.0500 76.48 353.88)">3.6</text>
<text transform="matrix(1.0823 0 0 1.0500 76.65 457.72)">3.4</text>
<text transform="matrix(1.1221 0 0 1.0500 76.53 561.56)">3.2</text>
<text transform="matrix(1.0643 0 0 1.0500 132.41 665.40)">3</text>
<text transform="matrix(1.1064 0 0 1.0500 76.88 769.24)">2.8</text>
<text transform="matrix(1.0500 0 0 1.0500 164.93 818.00)">0</text>
<text transform="matrix(1.0500 0 0 1.0500 314.15 818.00)">0.2</text>
<text transform="matrix(1.0500 0 0 1.0500 491.30 818.00)">0.4</text>
<text transform="matrix(1.0500 0 0 1.0500 668.88 818.00)">0.6</text>
<text transform="matrix(1.0500 0 0 1.0500 845.47 818.00)">0.8</text>
<path stroke="none" d="M1065.00,775.30 L1069.00,775.30 L1069.00,817.80 L1064.40,817.80 L1064.40,784.79 L1050.40,786.77 L1050.40,782.42 Z"/>
<path stroke="none" d="M1217.20,775.00 L1221.20,775.00 L1221.20,818.00 L1216.60,818.00 L1216.60,784.60 L1204.30,786.60 L1204.30,782.20 Z"/>
<text transform="matrix(1.0500 0 0 1.0500 1233.95 818.00)">.2</text>
<text transform="matrix(0.9661 0 0 1.0350 635.30 181.00)">OCP</text>
<path stroke="none" d="M1000.50,530.50 L1004.50,530.50 L1004.50,571.00 L999.90,571.00 L999.90,539.54 L989.40,541.43 L989.40,537.28 Z"/>
<text transform="matrix(0.9673 0 0 0.9720 1014.50 571.20)">/2/5</text>
<text transform="matrix(0.9825 0 0 1.0000 1037.95 698.50)">3/4/6/7</text>
<text transform="matrix(1.0465 0 0 1.0900 291.87 907.60)">Discharge capacity (mAh/cm</text>
<text transform="matrix(0.8593 0 0 0.7780 1090.22 874.80)">2</text>
<text transform="matrix(1.0133 0 0 1.0900 1119.29 907.60)">)</text>
<text transform="translate(44.5,525.20) rotate(-90) scale(1.0500)">Voltage(V)</text>
</g>
</svg>
</div></body></html>
